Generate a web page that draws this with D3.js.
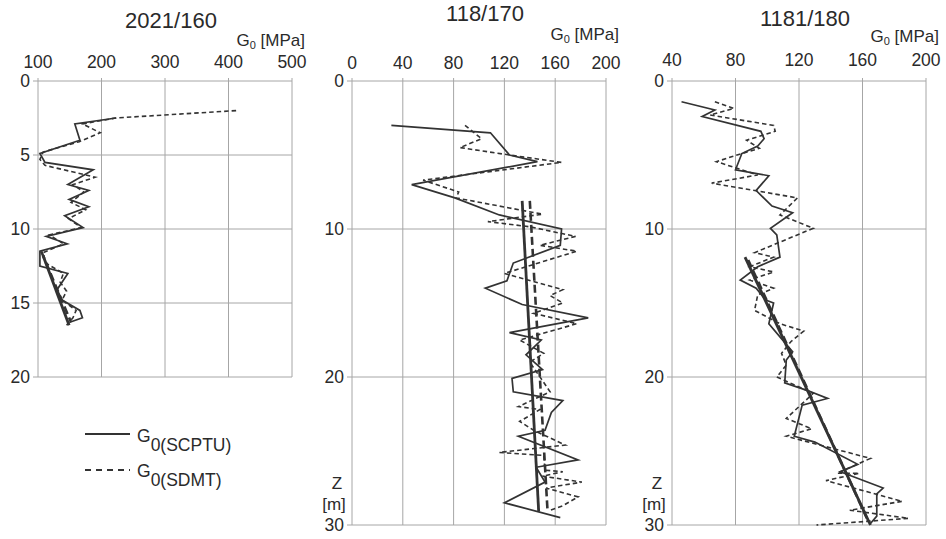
<!DOCTYPE html>
<html>
<head>
<meta charset="utf-8">
<script src="https://cdn.jsdelivr.net/npm/d3@7"></script>
<style>
  body { margin: 0; background: #fff; }
  svg { display: block; font-family: "Liberation Sans", Arial, sans-serif; }
</style>
</head>
<body>
<svg id="chart" width="946" height="539"></svg>
<script>
// panel titles and axis ticks
var titles = ["2021/160", "118/170", "1181/180"];
var xTicks1 = [100, 200, 300, 400, 500];
var xTicks2 = [0, 40, 80, 120, 160, 200];
var xTicks3 = [40, 80, 120, 160, 200];
var zTicks1 = [0, 5, 10, 15, 20];
var zTicks23 = [0, 10, 20, 30];

// [G0 MPa, depth m]
var scptu1 = [[223,2.5],[158,2.9],[166,4.0],[103,4.9],[111,5.5],[187,6.0],[147,7.0],[180,7.4],[149,8.0],[180,8.5],[142,9.1],[171,9.9],[113,10.5],[146,11.0],[103,11.5],[103,12.5],[147,13.0],[130,14.1],[138,14.8],[166,15.5],[170,16.0],[150,16.3]];
var sdmt1 = [[412,2.0],[222,2.5],[170,2.9],[198,3.5],[165,4.1],[108,4.8],[103,5.3],[111,5.7],[190,6.5],[155,7.0],[172,7.5],[152,8.2],[175,8.7],[148,9.3],[168,9.9],[118,10.4],[140,11.0],[108,11.6],[112,12.3],[140,13.0],[135,13.6],[145,14.2],[138,14.8],[160,15.5],[155,16.0],[145,16.5]];
var trendScptu1 = [[108,11.8],[149,16.5]];
var trendSdmt1 = [[105,11.5],[152,16.3]];

var scptu2 = [[31,3.0],[109,3.5],[124,5.0],[146,5.45],[47,7.0],[81,7.9],[116,9.05],[165,10.0],[164,11.1],[127,12.3],[122,13.5],[105,14.0],[134,15.1],[186,16.0],[124,17.0],[149,17.5],[137,18.5],[150,19.5],[126,20.1],[127,21.0],[166,21.6],[157,22.4],[152,23.6],[131,24.0],[178,25.6],[145,26.1],[152,27.1],[120,28.5],[164,29.5]];
var sdmt2 = [[89,3.0],[102,3.9],[85,4.5],[124,5.0],[165,5.5],[56,6.7],[84,7.5],[82,7.9],[150,9.0],[107,9.5],[140,9.85],[176,10.5],[148,11.1],[177,11.5],[120,13.0],[166,14.1],[156,14.5],[166,15.0],[143,15.7],[177,16.4],[132,17.5],[151,18.4],[140,19.0],[156,21.0],[131,22.0],[148,22.2],[132,23.0],[143,23.6],[168,24.6],[116,25.1],[151,25.3],[152,26.3],[166,26.4],[150,26.7],[181,27.1],[153,27.5],[178,28.1],[166,28.7],[156,29.0]];
var trendScptu2 = [[134,8.1],[147,29.1]];
var trendSdmt2 = [[140,8.1],[154,29.1]];

var scptu3 = [[46,1.4],[67,1.96],[59,2.4],[96,3.4],[98,3.9],[94,4.4],[84,4.9],[80,6.0],[101,6.4],[93,7.4],[103,8.45],[116,8.9],[102,9.95],[106,10.4],[108,11.9],[94,12.55],[83,13.45],[93,14.0],[99,14.8],[104,15.0],[101,16.4],[116,18.3],[112,18.85],[111,20.4],[125,20.9],[138,21.45],[122,21.9],[117,24.0],[130,24.4],[157,25.9],[146,26.4],[173,27.5],[169,27.9],[169,29.4],[165,29.9]];
var sdmt3 = [[67,1.4],[79,1.85],[64,2.3],[104,3.0],[105,3.4],[87,4.0],[95,4.55],[78,5.1],[68,5.45],[94,6.35],[65,6.9],[119,7.9],[108,9.05],[129,9.95],[92,11.6],[104,11.9],[89,12.55],[104,12.9],[89,13.45],[104,14.0],[94,14.45],[92,15.5],[108,16.4],[123,16.9],[115,17.6],[109,18.4],[112,19.2],[106,20.0],[129,21.1],[112,22.8],[128,23.5],[112,24.0],[165,25.5],[144,26.5],[158,26.5],[137,27.0],[185,28.4],[152,29.0],[189,29.55],[131,30.0]];
var trendScptu3 = [[86,11.9],[165,30.0]];
var trendSdmt3 = [[88,12.1],[163,29.6]];

var svg = d3.select("#chart");
var gridColor = "#a6a6a6";
var lineColor = "#333";
var textColor = "#2a2a2a";

var panels = [
  {title: titles[0], xd: [100, 500], xr: [38, 292], xt: xTicks1, zd: [0, 20], zr: [81, 377], zt: zTicks1,
   s: scptu1, d: sdmt1, ts: trendScptu1, td: trendSdmt1, titleY: 28, unitY: 46, tickY: 68, zlab: false},
  {title: titles[1], xd: [0, 200], xr: [352, 606], xt: xTicks2, zd: [0, 30], zr: [81, 525], zt: zTicks23,
   s: scptu2, d: sdmt2, ts: trendScptu2, td: trendSdmt2, titleY: 21, unitY: 40, tickY: 69, zlab: true},
  {title: titles[2], xd: [40, 200], xr: [672, 926], xt: xTicks3, zd: [0, 30], zr: [81, 525], zt: zTicks23,
   s: scptu3, d: sdmt3, ts: trendScptu3, td: trendSdmt3, titleY: 26, unitY: 42, tickY: 66, zlab: true}
];

panels.forEach(function(p) {
  var x = d3.scaleLinear().domain(p.xd).range(p.xr);
  var y = d3.scaleLinear().domain(p.zd).range(p.zr);
  var g = svg.append("g");

  // grid
  g.selectAll("line.vg").data(p.xt).enter().append("line")
    .attr("x1", function(d) { return x(d); }).attr("x2", function(d) { return x(d); })
    .attr("y1", p.zr[0] - 3).attr("y2", p.zr[1])
    .attr("stroke", gridColor).attr("stroke-width", 1);
  g.selectAll("line.hg").data(p.zt).enter().append("line")
    .attr("x1", p.xr[0] - 5).attr("x2", p.xr[1])
    .attr("y1", function(d) { return y(d); }).attr("y2", function(d) { return y(d); })
    .attr("stroke", gridColor).attr("stroke-width", 1);

  // tick labels
  g.selectAll("text.xt").data(p.xt).enter().append("text")
    .attr("x", function(d) { return x(d); }).attr("y", p.tickY)
    .attr("text-anchor", "middle").attr("font-size", 17.5).attr("fill", textColor)
    .text(function(d) { return d; });
  g.selectAll("text.zt").data(p.zt).enter().append("text")
    .attr("x", p.xr[0] - 8).attr("y", function(d) { return y(d) + 6; })
    .attr("text-anchor", "end").attr("font-size", 17.5).attr("fill", textColor)
    .text(function(d) { return d; });

  // title
  g.append("text").attr("x", (p.xr[0] + p.xr[1]) / 2 + 6).attr("y", p.titleY)
    .attr("text-anchor", "middle").attr("font-size", 22).attr("fill", textColor).text(p.title);

  // unit
  var u = g.append("text").attr("x", p.xr[1] + 13).attr("y", p.unitY)
    .attr("text-anchor", "end").attr("font-size", 17).attr("fill", textColor);
  u.append("tspan").text("G");
  u.append("tspan").attr("font-size", 11).attr("dy", 3).text("0");
  u.append("tspan").attr("dy", -3).text(" [MPa]");

  if (p.zlab) {
    g.append("text").attr("x", p.xr[0] - 15).attr("y", 489).attr("text-anchor", "middle")
      .attr("font-size", 17).attr("fill", textColor).text("Z");
    g.append("text").attr("x", p.xr[0] - 18).attr("y", 510).attr("text-anchor", "middle")
      .attr("font-size", 17).attr("fill", textColor).text("[m]");
  }

  var line = d3.line().x(function(d) { return x(d[0]); }).y(function(d) { return y(d[1]); });

  g.append("path").datum(p.d).attr("d", line).attr("fill", "none")
    .attr("stroke", lineColor).attr("stroke-width", 1.6).attr("stroke-dasharray", "4.5,3");
  g.append("path").datum(p.s).attr("d", line).attr("fill", "none")
    .attr("stroke", lineColor).attr("stroke-width", 1.7);
  g.append("path").datum(p.td).attr("d", line).attr("fill", "none")
    .attr("stroke", lineColor).attr("stroke-width", 2.6).attr("stroke-dasharray", "8,4");
  g.append("path").datum(p.ts).attr("d", line).attr("fill", "none")
    .attr("stroke", lineColor).attr("stroke-width", 2.8);
});

// legend
var legendItems = ["(SCPTU)", "(SDMT)"];
var lg = svg.append("g");
legendItems.forEach(function(name, i) {
  var ly = 434 + i * 36;
  lg.append("line").attr("x1", 85).attr("x2", 130).attr("y1", ly).attr("y2", ly)
    .attr("stroke", lineColor).attr("stroke-width", i === 0 ? 2.2 : 1.8)
    .attr("stroke-dasharray", i === 0 ? null : "6,5");
  var t = lg.append("text").attr("x", 137).attr("y", ly + 8 - i * 1)
    .attr("font-size", 17.5).attr("fill", textColor);
  t.append("tspan").text("G");
  t.append("tspan").attr("dy", 9).text("0" + name);
});
</script>
</body>
</html>
